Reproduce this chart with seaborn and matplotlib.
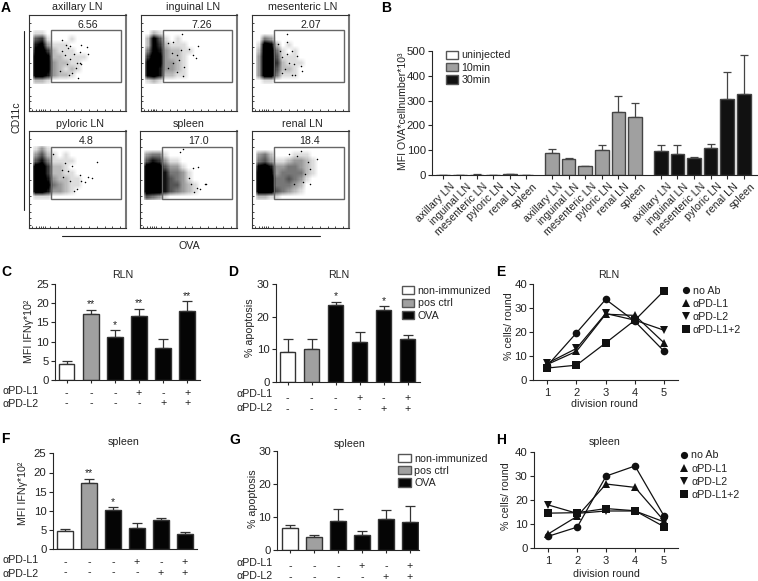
import numpy as np
import pandas as pd
import matplotlib
matplotlib.use("Agg")
import matplotlib.pyplot as plt
from matplotlib.patches import Patch, Rectangle
from matplotlib.lines import Line2D
from matplotlib.transforms import Affine2D, ScaledTranslation
import seaborn as sns

# ---------- data: flow panels (density per 6 px cell, sparse events in % of axes)
FLOW_TITLES = ["axillary LN", "inguinal LN", "mesenteric LN", "pyloric LN", "spleen", "renal LN"]
FLOW_GATES = ["6.56", "7.26", "2.07", "4.8", "17.0", "18.4"]
DENS_AXILLARY = ["11", "561000100", "783111", "8962111", "9982211110", "9983221100", "9983212100", "997322100", "221"]
DENS_INGUINAL = ["021", "2851010", "2862111", "48732211", "6983221", "8983321", "8973321", "8972211", "121"]
DENS_MESENTERIC = ["0", "043", "1982010", "2994101", "39951110", "39962111", "39952210", "39941110", "011"]
DENS_PYLORIC = ["131", "3521010", "57411110", "996221", "99622110", "99732211", "998432110", "99733210", "111"]
DENS_SPLEEN = ["0", "344100", "5763110", "999533100", "9997443100", "9997543100", "9997553210", "9997543210", "5431"]
DENS_RENAL = ["0", "3420001110", "45311233210", "89733443210", "9983444421", "999445431", "99944432", "99954321", "2211"]
X_AXILLARY = [34, 38, 42, 54, 60, 61, 46, 49, 53, 39, 42, 37, 44, 51, 41, 32, 34, 53, 40, 48, 54]
Y_AXILLARY = [74, 69, 68, 69, 67, 59, 59, 50, 50, 49, 54, 58, 40, 34, 37, 42, 62, 61, 66, 45, 49]
X_INGUINAL = [43, 59, 50, 33, 28, 37, 42, 54, 45, 37, 28, 44, 33, 57, 40, 32]
Y_INGUINAL = [80, 68, 65, 72, 71, 58, 64, 58, 46, 41, 45, 36, 50, 55, 53, 60]
X_MESENTERIC = [36, 36, 27, 41, 36, 46, 31, 43, 50, 52, 41, 34, 31, 44, 38, 29]
Y_MESENTERIC = [80, 72, 70, 62, 59, 57, 56, 49, 47, 42, 38, 44, 40, 38, 50, 62]
X_PYLORIC = [70, 25, 37, 44, 53, 61, 65, 58, 49, 42, 35, 34, 46, 40, 54]
Y_PYLORIC = [68, 76, 67, 64, 55, 53, 52, 47, 40, 48, 53, 60, 38, 59, 48]
X_SPLEEN = [44, 41, 68, 60, 55, 62, 56, 50, 53, 59, 67]
Y_SPLEEN = [81, 78, 45, 63, 62, 40, 37, 52, 45, 41, 45]
X_RENAL = [51, 67, 58, 60, 55, 60, 53, 43, 38, 46]
Y_RENAL = [79, 71, 68, 61, 56, 45, 47, 45, 76, 74]
GATE_X = [23, 95]
GATE_Y = [30, 84]
FLOW_TICKS_X = [3, 7, 10, 12, 14, 16, 22, 30, 38, 46, 54, 62, 70, 78, 86, 94]
FLOW_TICKS_Y = [3, 10, 16, 25, 33, 50, 67, 83, 92]

# ---------- data: panel B
ORGANS = ["axillary LN", "inguinal LN", "mesenteric LN", "pyloric LN", "renal LN", "spleen"]
B_UNINJ = [1, 1, 2, 1, 3, 1]
B_UNINJ_TOP = [1.5, 1.5, 3, 1.5, 4, 1.5]
B_10 = [88, 63, 35, 100, 256, 232]
B_10_TOP = [105, 67, 38, 122, 320, 290]
B_30 = [95, 83, 67, 107, 307, 328]
B_30_TOP = [120, 120, 73, 127, 415, 482]

# ---------- data: bar panels C, D, F, G
GROUPS = ["non-immunized", "pos ctrl", "OVA", "OVA", "OVA", "OVA"]
PD_L1 = ["-", "-", "-", "+", "-", "+"]
PD_L2 = ["-", "-", "-", "-", "+", "+"]
C_VALS = [4.2, 17.3, 11.2, 16.7, 8.3, 18.0]
C_TOPS = [4.9, 18.3, 12.9, 18.6, 10.7, 20.5]
C_STARS = ["", "**", "*", "**", "", "**"]
D_VALS = [9.3, 10.0, 23.6, 12.2, 22.0, 13.0]
D_TOPS = [13.3, 13.0, 24.7, 15.2, 23.2, 14.3]
D_STARS = ["", "", "*", "", "*", ""]
F_VALS = [4.7, 17.3, 10.2, 5.5, 7.7, 4.0]
F_TOPS = [5.4, 18.3, 11.0, 6.8, 8.2, 4.5]
F_STARS = ["", "**", "*", "", "", ""]
G_VALS = [6.7, 3.9, 8.7, 4.4, 9.5, 8.6]
G_TOPS = [7.5, 4.6, 12.3, 5.8, 12.1, 13.4]
G_STARS = ["", "", "", "", "", ""]

# ---------- data: line panels E, H
ROUNDS = [1, 2, 3, 4, 5]
TREATMENTS = ["no Ab", "αPD-L1", "αPD-L2", "αPD-L1+2"]
E_NOAB = [6.0, 19.7, 33.7, 24.5, 12.0]
E_L1 = [6.5, 12.0, 27.5, 27.0, 15.5]
E_L2 = [7.0, 13.2, 27.8, 25.0, 20.8]
E_L12 = [5.0, 6.2, 15.5, 25.0, 37.3]
H_NOAB = [5.0, 8.8, 30.0, 34.2, 13.5]
H_L1 = [6.0, 13.3, 26.7, 25.3, 11.5]
H_L2 = [18.0, 14.5, 15.5, 15.5, 11.0]
H_L12 = [14.6, 14.8, 16.5, 15.6, 9.0]

# ---------- figure set-up
W, H = 758, 581
sns.set_theme(style="ticks")
plt.rcParams["font.family"] = ["Liberation Sans", "DejaVu Sans"]
plt.rcParams["axes.linewidth"] = 0.8
FS = 7.7
INK = "#222222"
FILL = {"non-immunized": "#ffffff", "pos ctrl": "#a0a0a0", "OVA": "#050505",
        "uninjected": "#ffffff", "10min": "#a0a0a0", "30min": "#111111"}
MARK = {"no Ab": "o", "αPD-L1": "^", "αPD-L2": "v", "αPD-L1+2": "s"}

fig = plt.figure(figsize=(W / 100, H / 100), dpi=100, facecolor="white")
PX = Affine2D().scale(1, -1).translate(0, H)


def box(l, t, r, b):
    return fig.add_axes([l / W, 1 - b / H, (r - l) / W, (b - t) / H])


def label(x, y, s, size=FS, **kw):
    kw.setdefault("ha", "center")
    kw.setdefault("va", "center")
    kw.setdefault("color", INK)
    fig.text(x, y, s, transform=PX, fontsize=size, **kw)


def upper_err(ax, x, vals, tops, lw=0.9, cap=3.0, color="#333333"):
    vals, tops = np.array(vals, float), np.array(tops, float)
    ax.errorbar(x, vals, yerr=[np.zeros_like(vals), tops - vals], fmt="none",
                ecolor=color, elinewidth=lw, capsize=cap, capthick=lw, zorder=1.5)


def style_axes(ax, yticks):
    sns.despine(ax=ax)
    ax.set_yticks(yticks)
    ax.tick_params(axis="y", length=3, width=0.8, pad=1.5, labelsize=FS + 0.5, labelcolor=INK)
    ax.set_xlabel("")
    ax.set_ylabel("")


def patch_legend(ax, names, x, y):
    handles = [Patch(facecolor=FILL[n], edgecolor="#555555", linewidth=1.0, label=n) for n in names]
    ax.legend(handles=handles, loc="upper left", bbox_to_anchor=(x, y), bbox_transform=PX,
              frameon=False, fontsize=FS, borderpad=0, borderaxespad=0, handlelength=1.18,
              handleheight=0.78, handletextpad=0.3, labelspacing=0.22, labelcolor=INK)


def soften(grid):
    """Display a coarse density table as a soft cloud instead of hard 6 px blocks."""
    fine = np.kron(grid, np.ones((6, 6)))
    kernel = np.ones(5) / 5
    fine = np.apply_along_axis(lambda v: np.convolve(v, kernel, mode="same"), 0, fine)
    fine = np.apply_along_axis(lambda v: np.convolve(v, kernel, mode="same"), 1, fine)
    return fine


# ---------- A: flow cytometry
FLOW = [(DENS_AXILLARY, X_AXILLARY, Y_AXILLARY), (DENS_INGUINAL, X_INGUINAL, Y_INGUINAL),
        (DENS_MESENTERIC, X_MESENTERIC, Y_MESENTERIC), (DENS_PYLORIC, X_PYLORIC, Y_PYLORIC),
        (DENS_SPLEEN, X_SPLEEN, Y_SPLEEN), (DENS_RENAL, X_RENAL, Y_RENAL)]
FLOW_BOX = [(29, 15, 126, 111), (141, 15, 237, 111), (252, 15, 349, 111),
            (29, 131, 126, 228), (140, 131, 237, 228), (252, 131, 349, 228)]
TITLE_POS = [(77, 7.5), (192.7, 7.5), (303, 7.5), (80, 124), (189, 124), (302.7, 124)]
GATE_POS = [(87.7, 25), (201.7, 25), (311, 25), (86.7, 140.7), (199, 140.7), (310, 140.7)]
for i, ((dens, fx, fy), (l, t, r, b)) in enumerate(zip(FLOW, FLOW_BOX)):
    under = box(l + 4, t + 15, l + 76, t + 69)
    grid = np.array([[int(c) for c in row.ljust(12, "0")] for row in dens])
    sns.heatmap(soften(grid), cmap="gray_r", vmin=0, vmax=7.5, cbar=False, ax=under,
                xticklabels=False, yticklabels=False, linewidths=0, rasterized=True)
    under.axis("off")
    ax = box(l, t, r, b)
    ax.patch.set_alpha(0)
    sns.scatterplot(x=fx, y=fy, s=1.2, color="black", linewidth=0, ax=ax, legend=False)
    ax.set_xlim(0, 100)
    ax.set_ylim(0, 100)
    ax.set_xticks(FLOW_TICKS_X)
    ax.set_yticks(FLOW_TICKS_Y)
    ax.tick_params(direction="in", length=1.6, width=0.6, labelbottom=False, labelleft=False)
    for side, col, lw in [("top", "#333333", 0.8), ("left", "#333333", 0.8),
                          ("right", "#777777", 1.5), ("bottom", "#333333", 0.8)]:
        ax.spines[side].set_color(col)
        ax.spines[side].set_linewidth(lw)
    ax.add_patch(Rectangle((GATE_X[0], GATE_Y[0]), GATE_X[1] - GATE_X[0], GATE_Y[1] - GATE_Y[0],
                           fill=False, edgecolor="#666666", linewidth=1.0))
    label(*TITLE_POS[i], FLOW_TITLES[i])
    label(*GATE_POS[i], FLOW_GATES[i])
fig.add_artist(Line2D([23.7, 23.7], [31, 210], transform=PX, color=INK, lw=0.8))
fig.add_artist(Line2D([62, 320], [236, 236], transform=PX, color=INK, lw=0.8))
label(16, 116.7, "CD11c", rotation=90)
label(189, 246, "OVA")

# ---------- B
ax = box(432, 51, 757, 175)
gap = 0.55
B_POS = [i + gap * g for g in range(3) for i in range(6 * g, 6 * g + 6)]
B_LONG = pd.DataFrame({"pos": B_POS, "val": B_UNINJ + B_10 + B_30,
                       "group": ["uninjected"] * 6 + ["10min"] * 6 + ["30min"] * 6})
sns.barplot(data=B_LONG, x="pos", y="val", hue="group", palette=FILL, native_scale=True, dodge=False,
            width=0.82, edgecolor="#444444", linewidth=1.0, errorbar=None, legend=False, ax=ax, zorder=2)
upper_err(ax, B_POS, B_UNINJ + B_10 + B_30, B_UNINJ_TOP + B_10_TOP + B_30_TOP, cap=3.0, color="#444444")
ax.set_xlim((432 - 443.3) / 16.6, (757 - 443.3) / 16.6)
ax.set_ylim(0, 500)
style_axes(ax, [0, 100, 200, 300, 400, 500])
ax.set_xticks(B_POS)
ax.set_xticklabels(ORGANS * 3, rotation=45, ha="right", rotation_mode="anchor", fontsize=FS, color=INK)
ax.tick_params(axis="x", length=3, width=0.8, pad=1.5)
shift = ScaledTranslation(6 / 100, 0, fig.dpi_scale_trans)
for tl in ax.get_xticklabels():
    tl.set_transform(tl.get_transform() + shift)
patch_legend(ax, ["uninjected", "10min", "30min"], 445.7, 50.5)
label(403, 111.7, "MFI OVA*cellnumber*10³", size=FS - 0.1, rotation=90)


# ---------- C, D, F, G
def bar_panel(bx, first, step, width, vals, tops, stars, ymax, yticks, title, tpos, ylab, ypos,
              rows_x, rows_y, tick_len=2.5, pad=3.0, spacing=1.05):
    ax = box(*bx)
    pos = list(range(6))
    df = pd.DataFrame({"pos": pos, "val": vals, "group": GROUPS})
    sns.barplot(data=df, x="pos", y="val", hue="group", palette=FILL, native_scale=True, dodge=False,
                width=width / step, edgecolor="#333333", linewidth=1.0, errorbar=None,
                legend=False, ax=ax, zorder=2)
    upper_err(ax, pos, vals, tops, cap=3.6)
    ax.set_xlim((bx[0] - first) / step, (bx[2] - first) / step)
    ax.set_ylim(0, ymax)
    style_axes(ax, yticks)
    ax.set_xticks(pos)
    ax.set_xticklabels([f"{a}\n{c}" for a, c in zip(PD_L1, PD_L2)], fontsize=FS, color=INK, linespacing=spacing)
    ax.tick_params(axis="x", length=tick_len, width=0.8, pad=pad)
    for p, s, top in zip(pos, stars, tops):
        if s:
            ax.text(p, top + ymax * 0.005, s, ha="center", va="bottom", fontsize=7.5, color=INK)
    label(*tpos, title)
    label(*ypos, ylab, rotation=90)
    label(rows_x, rows_y[0], "αPD-L1", ha="left")
    label(rows_x, rows_y[1], "αPD-L2", ha="left")
    return ax


bar_panel((55, 284, 200, 380), 66.7, 24.1, 15.5, C_VALS, C_TOPS, C_STARS, 25, [0, 5, 10, 15, 20, 25],
          "RLN", (122.7, 275), "MFI IFNγ*10²", (29, 331.7), 2.7, (390.7, 403.7))
ax = bar_panel((275.7, 284.3, 420, 381.7), 287.7, 24, 15.5, D_VALS, D_TOPS, D_STARS, 30, [0, 10, 20, 30],
               "RLN", (339, 275), "% apoptosis", (250, 328), 236.7, (394, 408.3), pad=5.5, spacing=1.12)
patch_legend(ax, ["non-immunized", "pos ctrl", "OVA"], 401.7, 286)
bar_panel((52.7, 453.3, 196.7, 549.3), 65, 24, 15.5, F_VALS, F_TOPS, F_STARS, 25, [0, 5, 10, 15, 20, 25],
          "spleen", (124, 442), "MFI IFNγ*10²", (22.7, 493.7), 2.7, (560.3, 573.7), tick_len=0, pad=5.5, spacing=1.08)
ax = bar_panel((277.3, 451, 419, 550), 290, 24, 15.5, G_VALS, G_TOPS, G_STARS, 30, [0, 10, 20, 30],
               "spleen", (350, 443.7), "% apoptosis", (253, 499), 236.7, (562.7, 576), pad=5.5, spacing=1.08)
patch_legend(ax, ["non-immunized", "pos ctrl", "OVA"], 398.3, 453.5)


# ---------- E, H
def line_panel(bx, first, step, series, title, tpos, ypos, xpos, leg):
    ax = box(*bx)
    df = pd.DataFrame({"round": ROUNDS * 4, "pct": sum(series, []),
                       "treatment": [t for t in TREATMENTS for _ in ROUNDS]})
    sns.lineplot(data=df, x="round", y="pct", hue="treatment", style="treatment",
                 palette=["#111111"] * 4, markers=MARK, dashes=False, markersize=5.5,
                 markeredgewidth=0, linewidth=0.9, legend=False, ax=ax, errorbar=None)
    ax.set_xlim(1 + (bx[0] - first) / step, 1 + (bx[2] - first) / step)
    ax.set_ylim(0, 40)
    style_axes(ax, [0, 10, 20, 30, 40])
    ax.set_xticks(ROUNDS)
    ax.tick_params(axis="x", length=3, width=0.8, pad=2.5, labelsize=FS + 0.3, labelcolor=INK)
    handles = [Line2D([], [], linestyle="none", marker=MARK[t], color="#111111", markersize=5.2,
                      markeredgewidth=0, label=t) for t in TREATMENTS]
    ax.legend(handles=handles, loc="upper left", bbox_to_anchor=leg, bbox_transform=PX, frameon=False,
              fontsize=FS, borderpad=0, borderaxespad=0, handlelength=0.7, handletextpad=0.3,
              labelspacing=0.3, labelcolor=INK)
    label(*tpos, title)
    label(*ypos, "% cells/ round", rotation=90)
    label(*xpos, "division round")


line_panel((533.3, 284.3, 678, 380), 547.3, 29.2, [E_NOAB, E_L1, E_L2, E_L12], "RLN",
           (608.7, 275), (509, 325.7), (604, 404), (682, 285.5))
line_panel((534, 452, 678, 548.3), 548.3, 28.9, [H_NOAB, H_L1, H_L2, H_L12], "spleen",
           (605, 442), (506, 496), (606, 573.7), (680.5, 450.5))

# ---------- panel letters
for s, x, y in [("A", 1, 8), ("B", 381, 8), ("C", 1, 272), ("D", 228, 272), ("E", 496, 272),
                ("F", 1, 439), ("G", 229, 440), ("H", 496, 440)]:
    label(x, y, s, size=10, ha="left", fontweight="bold", color="black")

fig.savefig("out.png", dpi=100)
